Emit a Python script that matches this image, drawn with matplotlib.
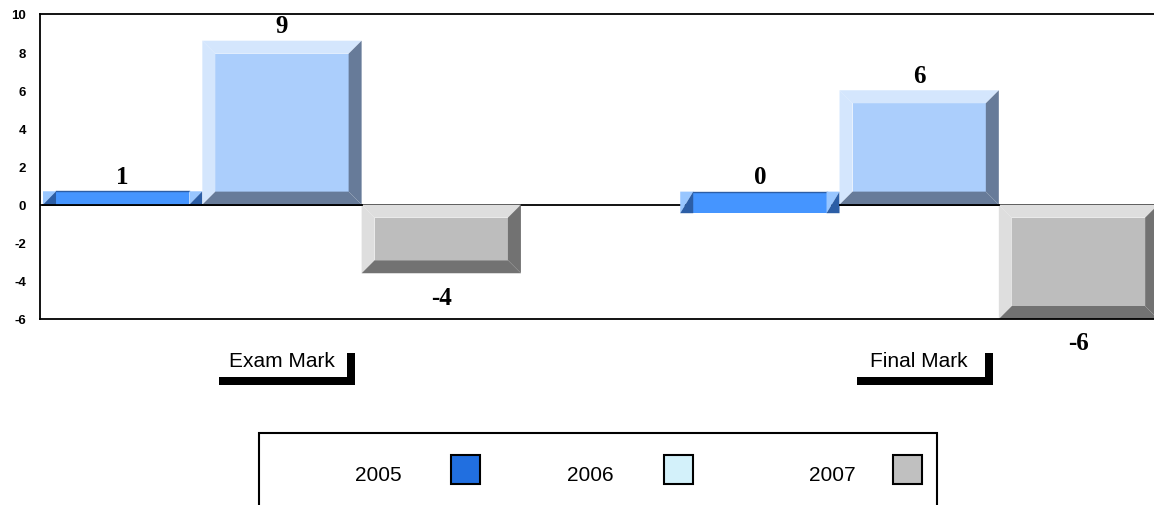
import matplotlib.pyplot as plt
from matplotlib.patches import Polygon, Rectangle
from matplotlib.transforms import blended_transform_factory

plt.rcParams['axes.unicode_minus'] = False

categories = ['Exam Mark', 'Final Mark']
years = ['2005', '2006', '2007']
values_2005 = [0.7, -0.45]
values_2006 = [8.6, 6.0]
values_2007 = [-3.6, -6.0]
y_ticks = [-6, -4, -2, 0, 2, 4, 6, 8, 10]

# front, light bevel, dark bevel, legend swatch
colors = {
  '2005': ('#4595ff', '#98c6ff', '#2c5ea6', '#216fe0'),
  '2006': ('#abcefc', '#d4e6fd', '#677b99', '#d3f1fa'),
  '2007': ('#bdbdbd', '#dedede', '#727272', '#c0c0c0'),
}

W, H = 1154, 506
unit = 159.3          # px per bar
x_lo, x_hi = -0.019, 7.6
dx = 13 / unit        # bevel width in data units
dy = 13 / 19.06       # bevel height in data units


def poly(ax, pts, color):
  ax.add_patch(Polygon(pts, closed=True, facecolor=color, edgecolor='none', zorder=2))


def bevel_bar(ax, x0, v, front, light, dark):
  x1 = x0 + 1
  if abs(v) >= 2 * dy:
    b, t = min(0, v), max(0, v)
    poly(ax, [(x0 + dx, b + dy), (x1 - dx, b + dy), (x1 - dx, t - dy), (x0 + dx, t - dy)], front)
    poly(ax, [(x0, t), (x1, t), (x1 - dx, t - dy), (x0 + dx, t - dy)], light)
    poly(ax, [(x0, b), (x0, t), (x0 + dx, t - dy), (x0 + dx, b + dy)], light)
    poly(ax, [(x0, b), (x1, b), (x1 - dx, b + dy), (x0 + dx, b + dy)], dark)
    poly(ax, [(x1, b), (x1, t), (x1 - dx, t - dy), (x1 - dx, b + dy)], dark)
  else:
    b, t = min(0, v), max(v, dy)
    poly(ax, [(x0 + dx, b), (x1 - dx, b), (x1 - dx, t), (x0 + dx, t)], front)
    ax.plot([x0 + dx, x1 - dx], [t, t], color=dark, lw=1, zorder=2)
    for xa in (x0, x1 - dx):
      poly(ax, [(xa, t), (xa + dx, t), (xa, b)], light)
      poly(ax, [(xa, b), (xa + dx, t), (xa + dx, b)], dark)
  return b, t


fig = plt.figure(figsize=(W / 100, H / 100), dpi=100)
ax_w = (x_hi - x_lo) * unit
ax = fig.add_axes([40 / W, 186 / H, ax_w / W, 305 / H])
ax.set_xlim(x_lo, x_hi)
ax.set_ylim(-6, 10)
ax.set_xticks([])
ax.set_yticks(y_ticks)
ax.tick_params(axis='y', length=0, pad=10, labelsize=9.5)
for lab in ax.get_yticklabels():
  lab.set_fontfamily('Liberation Sans')
  lab.set_fontweight('bold')
ax.spines['right'].set_visible(False)
for s in ('left', 'top', 'bottom'):
  ax.spines[s].set_linewidth(1.3)
ax.axhline(0, color='black', lw=1.3, zorder=1)

series = [values_2005, values_2006, values_2007]
for g, cat in enumerate(categories):
  for i, yr in enumerate(years):
    v = series[i][g]
    x0 = g * 4 + i
    front, light, dark, _ = colors[yr]
    b, t = bevel_bar(ax, x0, v, front, light, dark)
    if v > 0:
      ax.plot([x0, x0 + 1], [0, 0], color='black', lw=1.3, zorder=3)
    lab = str(int(round(v)))
    if int(round(v)) >= 0:
      ax.text(x0 + 0.5, t + 0.45, lab, ha='center', va='baseline', fontsize=18,
              fontweight='bold', family='Liberation Serif', zorder=4)
    else:
      ax.text(x0 + 0.5, b - 1.6, lab, ha='center', va='baseline', fontsize=18,
              fontweight='bold', family='Liberation Serif', zorder=4, clip_on=False)

# category labels with shadow boxes
tr = blended_transform_factory(ax.transData, fig.transFigure)
for g, cat in enumerate(categories):
  c = g * 4 + 1.5
  sl, sr = c - 62.5 / unit, c + 73.5 / unit
  ax.add_patch(Rectangle((sl, 1 - 386 / H), sr - sl, 32 / H, transform=tr,
                         facecolor='black', edgecolor='none', clip_on=False))
  ax.add_patch(Rectangle((sl - 8 / unit, 1 - 378 / H), sr - sl, 32 / H, transform=tr,
                         facecolor='white', edgecolor='none', clip_on=False))
  ax.text(c, 1 - 367 / H, cat, transform=tr, ha='center', va='baseline',
          fontsize=15, family='Liberation Sans')

# legend box
fig.add_artist(Rectangle((259 / W, -0.1), (937 - 259) / W, 0.1 + 1 - 434 / H,
                         transform=fig.transFigure, facecolor='white',
                         edgecolor='black', lw=1.5))
text_x = [355, 567, 809]
sw_x = [451, 664, 893]
for yr, tx, sx in zip(years, text_x, sw_x):
  fig.text(tx / W, 1 - 481 / H, yr, ha='left', va='baseline', fontsize=15,
           family='Liberation Sans')
  fig.add_artist(Rectangle((sx / W, 1 - 485 / H), 29 / W, 29 / H,
                           transform=fig.transFigure, facecolor=colors[yr][3],
                           edgecolor='black', lw=1.5))

fig.savefig('out.png', dpi=100)
